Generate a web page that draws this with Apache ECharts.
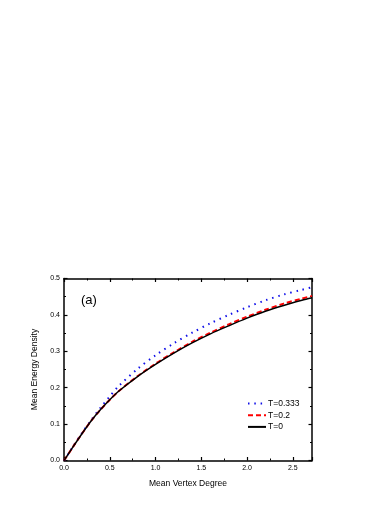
<!DOCTYPE html>
<html>
<head>
<meta charset="utf-8">
<script src="https://cdn.jsdelivr.net/npm/echarts@6/dist/echarts.min.js"></script>
<style>
html,body{margin:0;padding:0;background:#fff;}
#c{width:390px;height:505px;}
</style>
</head>
<body>
<div id="c"></div>
<script>
var degree = [0, 0.05, 0.1, 0.2, 0.3, 0.4, 0.5, 0.6, 0.8, 1.0, 1.2, 1.4, 1.6, 1.8, 2.0, 2.2, 2.4, 2.6, 2.71];
var energyT0333 = [0, 0.019, 0.039, 0.077, 0.112, 0.145, 0.176, 0.205, 0.251, 0.289, 0.322, 0.351, 0.377, 0.400, 0.421, 0.440, 0.456, 0.469, 0.476];
var energyT02 = [0, 0.019, 0.038, 0.075, 0.110, 0.140, 0.167, 0.191, 0.231, 0.266, 0.297, 0.326, 0.351, 0.374, 0.395, 0.414, 0.431, 0.445, 0.452];
var energyT0 = [0, 0.019, 0.038, 0.075, 0.110, 0.140, 0.167, 0.191, 0.230, 0.264, 0.295, 0.323, 0.348, 0.370, 0.391, 0.410, 0.426, 0.440, 0.447];
var seriesNames = ['T=0.333', 'T=0.2', 'T=0'];
var xTitle = 'Mean Vertex Degree';
var yTitle = 'Mean Energy Density';
var panelLabel = '(a)';

function pairs(xs, ys){ return xs.map(function(x,i){ return [x, ys[i]]; }); }

var font = 'Liberation Sans, Arial, sans-serif';
var chart = echarts.init(document.getElementById('c'), null, {renderer:'canvas'});
function axisLine(){ return {show:true, onZero:false, lineStyle:{color:'#000', width:1.5}}; }
var tick = {show:true, inside:true, length:3.5, lineStyle:{color:'#000', width:1.2}};
var minor = {show:true, splitNumber:2, length:2, lineStyle:{color:'#000', width:1}};
chart.setOption({
  animation:false,
  backgroundColor:'#fff',
  grid:{left:64, right:78, top:278.5, bottom:44.5, containLabel:false},
  title:{text:panelLabel, left:76, top:289, textStyle:{fontFamily:font, fontSize:13, fontWeight:'normal', color:'#000'}},
  legend:{
    orient:'vertical', left:242, top:394, itemWidth:18, itemHeight:8, itemGap:2.7,
    itemStyle:{opacity:0},
    textStyle:{fontFamily:font, fontSize:8.5, color:'#000', padding:[0,0,0,-3]},
    data:seriesNames
  },
  xAxis:[{
    type:'value', min:0, max:2.71, interval:0.5, position:'bottom',
    name:xTitle, nameLocation:'middle', nameGap:19,
    nameTextStyle:{fontFamily:font, fontSize:8.5, color:'#000'},
    axisLine:axisLine(), axisTick:tick, minorTick:minor, splitLine:{show:false},
    axisLabel:{fontFamily:font, fontSize:7, color:'#000', margin:4, showMaxLabel:false,
      formatter:function(v){return v.toFixed(1);}}
  },{
    type:'value', min:0, max:2.71, interval:0.5, position:'top',
    axisLine:axisLine(), axisTick:tick, minorTick:minor, splitLine:{show:false},
    axisLabel:{show:false}
  }],
  yAxis:[{
    type:'value', min:0, max:0.5, interval:0.1, position:'left',
    name:yTitle, nameLocation:'middle', nameGap:23,
    nameTextStyle:{fontFamily:font, fontSize:8.5, color:'#000'},
    axisLine:axisLine(), axisTick:tick, minorTick:minor, splitLine:{show:false},
    axisLabel:{fontFamily:font, fontSize:7, color:'#000', margin:4,
      formatter:function(v){return v.toFixed(1);}}
  },{
    type:'value', min:0, max:0.5, interval:0.1, position:'right',
    axisLine:axisLine(), axisTick:tick, minorTick:minor, splitLine:{show:false},
    axisLabel:{show:false}
  }],
  series:[
    {name:seriesNames[0], type:'line', data:pairs(degree, energyT0333), symbol:'none', smooth:0.3,
     lineStyle:{color:'#1010e8', width:2, type:[1.5,4.8]}, itemStyle:{color:'#1010e8'}},
    {name:seriesNames[1], type:'line', data:pairs(degree, energyT02), symbol:'none', smooth:0.3,
     lineStyle:{color:'#ff0000', width:2, type:[5,3]}, itemStyle:{color:'#ff0000'}},
    {name:seriesNames[2], type:'line', data:pairs(degree, energyT0), symbol:'none', smooth:0.3,
     lineStyle:{color:'#000', width:1.5, type:'solid'}, itemStyle:{color:'#000'}}
  ]
});
</script>
</body>
</html>
